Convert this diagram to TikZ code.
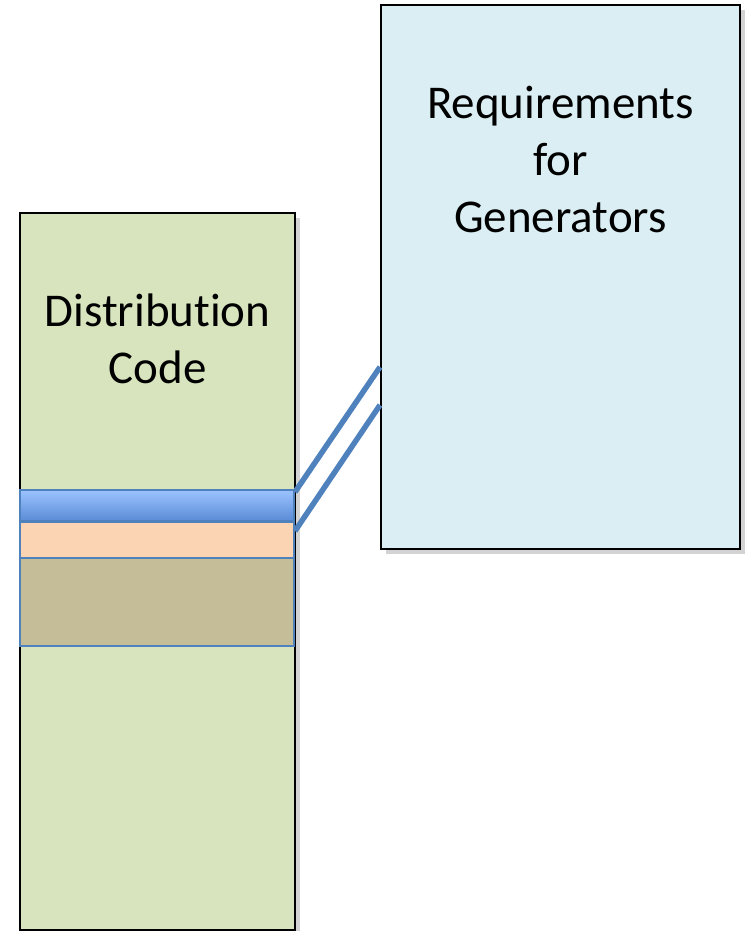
\documentclass[tikz,border=0pt]{standalone}
\usepackage{fontspec}
\setmainfont[Ligatures={NoCommon}]{Carlito}
\usetikzlibrary{positioning, shadows}
\definecolor{codegreen}{HTML}{D7E4BD}
\definecolor{reqblue}{HTML}{DAEEF3}
\definecolor{edgeblue}{HTML}{4F81BD}
\definecolor{ifacetop}{HTML}{9CC3FF}
\definecolor{ifacebot}{HTML}{5A8BD6}
\definecolor{peach}{HTML}{FBD4B4}
\definecolor{tan}{HTML}{C4BD97}
\tikzstyle{block} = [draw=black, line width=2pt, inner sep=0pt, drop shadow={shadow xshift=5pt, shadow yshift=-5pt, opacity=0.35}]
\tikzstyle{band} = [draw=edgeblue, line width=2pt, inner sep=0pt, minimum width=274pt]
\tikzstyle{words} = [align=center, font=\fontsize{47}{57}\selectfont, inner sep=0pt]
\tikzstyle{tie} = [draw=edgeblue, line width=5.5pt]

\begin{document}
\begin{tikzpicture}[x=1pt, y=-1pt]
			\useasboundingbox (0,0) rectangle (744,931);
			\node[block, fill=codegreen, minimum width=275pt, minimum height=717pt] (dist)  at (157.5,571.5) {};
			\node[block, fill=reqblue, minimum width=359pt, minimum height=544pt]   (req)   at (560.5,277) {};
			\node[words, anchor=base]                      (dist text)  at (157.5,383) {Distribution\\Code};
			\node[words, anchor=base]                      (req text)   at (560.5,232) {Requirements\\for\\Generators};
			\node[band, top color=ifacetop, bottom color=ifacebot, minimum height=31pt] (iface) at (157,505.5) {};
			\node[band, fill=peach, minimum height=36pt]   (glue)   at (157,540) {};
			\node[band, fill=tan, minimum height=88pt]     (core)   at (157,602) {};
			
			\draw[tie] ([yshift=-3pt]iface.north east) -- ([yshift=-90pt]req.west);
			\draw[tie] ([yshift=-10pt]glue.north east) -- ([yshift=-128pt]req.west);
			
		\end{tikzpicture}
\end{document}
